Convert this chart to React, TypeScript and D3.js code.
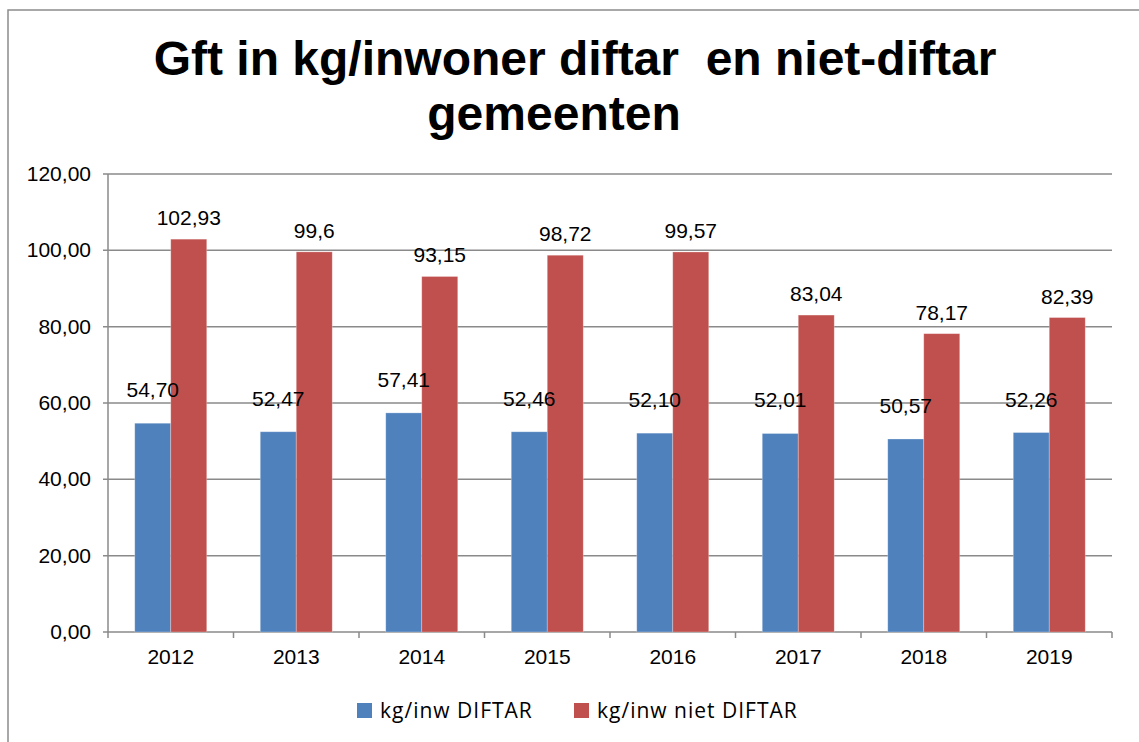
import React from "react";
import * as d3 from "d3";

// values
const years = ["2012", "2013", "2014", "2015", "2016", "2017", "2018", "2019"];
const diftar = [54.7, 52.47, 57.41, 52.46, 52.1, 52.01, 50.57, 52.26];
const nietDiftar = [102.93, 99.6, 93.15, 98.72, 99.57, 83.04, 78.17, 82.39];
const diftarLabels = ["54,70", "52,47", "57,41", "52,46", "52,10", "52,01", "50,57", "52,26"];
const nietDiftarLabels = ["102,93", "99,6", "93,15", "98,72", "99,57", "83,04", "78,17", "82,39"];
const seriesNames = ["kg/inw DIFTAR", "kg/inw niet DIFTAR"];
const yTicks = [0, 20, 40, 60, 80, 100, 120];

const W = 1139;
const H = 742;
const colors = ["#4F81BD", "#C0504D"];
const gridColor = "#8a8a8a";
const font = "'Liberation Sans', Arial, sans-serif";

export default function App() {
  const left = 108, right = 1112, top = 174, bottom = 632;

  const x = d3.scaleBand<string>().domain(years).range([left, right]);
  const inner = d3
    .scaleBand<string>()
    .domain(["a", "b"])
    .range([0, x.bandwidth()])
    .paddingOuter(0.743);
  const y = d3.scaleLinear().domain([0, 120]).range([bottom, top]);

  const fmt = (v: number) => v.toFixed(2).replace(".", ",");

  const series = [
    { key: "a", values: diftar, labels: diftarLabels, color: colors[0], lift: 26 },
    { key: "b", values: nietDiftar, labels: nietDiftarLabels, color: colors[1], lift: 14 },
  ];

  return (
    <svg width={W} height={H} style={{ position: "absolute", left: 0, top: 0, background: "#fff" }}>
      <rect x={8} y={10} width={1300} height={900} fill="#fff" stroke="#8c8c8c" strokeWidth={1.5} />

      <text x={575} y={75} textAnchor="middle" fontFamily={font} fontWeight="bold" fontSize={48} fill="#000">
        Gft in kg/inwoner diftar{"\u00a0"} en niet-diftar
      </text>
      <text x={554} y={130} textAnchor="middle" fontFamily={font} fontWeight="bold" fontSize={48} fill="#000">
        gemeenten
      </text>

      {yTicks.map((t) => (
        <g key={t}>
          <line x1={left - 5} x2={right} y1={y(t)} y2={y(t)} stroke={gridColor} strokeWidth={1.5} />
          <text x={91} y={y(t) + 7} textAnchor="end" fontFamily={font} fontSize={21} fill="#000">
            {fmt(t)}
          </text>
        </g>
      ))}
      <line x1={left} x2={left} y1={top} y2={bottom} stroke={gridColor} strokeWidth={1.5} />

      {years.map((yr) => (
        <line
          key={"tk" + yr}
          x1={x(yr)!}
          x2={x(yr)!}
          y1={bottom}
          y2={bottom + 6}
          stroke={gridColor}
          strokeWidth={1.5}
        />
      ))}
      <line x1={right} x2={right} y1={bottom} y2={bottom + 6} stroke={gridColor} strokeWidth={1.5} />

      {series.map((s) =>
        years.map((yr, i) => {
          const v = s.values[i];
          return (
            <rect
              key={"b" + s.key + yr}
              x={x(yr)! + inner(s.key)!}
              y={y(v)}
              width={inner.bandwidth()}
              height={bottom - y(v)}
              fill={s.color}
              stroke="#ffffff"
              strokeOpacity={0.35}
              strokeWidth={0.8}
            />
          );
        })
      )}

      {series.map((s) =>
        years.map((yr, i) => {
          const v = s.values[i];
          return (
            <text
              key={"l" + s.key + yr}
              x={x(yr)! + inner(s.key)! + inner.bandwidth() / 2}
              y={y(v) - s.lift}
              textAnchor="middle"
              fontFamily={font}
              fontSize={21}
              fill="#000"
            >
              {s.labels[i]}
            </text>
          );
        })
      )}

      {years.map((yr) => (
        <text
          key={"yl" + yr}
          x={x(yr)! + x.bandwidth() / 2}
          y={664}
          textAnchor="middle"
          fontFamily={font}
          fontSize={21}
          fill="#000"
        >
          {yr}
        </text>
      ))}

      {seriesNames.map((name, i) => {
        const lx = i === 0 ? 357 : 574;
        return (
          <g key={name}>
            <rect x={lx} y={703} width={15} height={15} fill={colors[i]} />
            <text
              x={lx + 23}
              y={718}
              fontFamily="'Open Sans', 'Noto Sans', sans-serif"
              fontSize={21}
              letterSpacing={1}
              fill="#000"
            >
              {name}
            </text>
          </g>
        );
      })}
    </svg>
  );
}
